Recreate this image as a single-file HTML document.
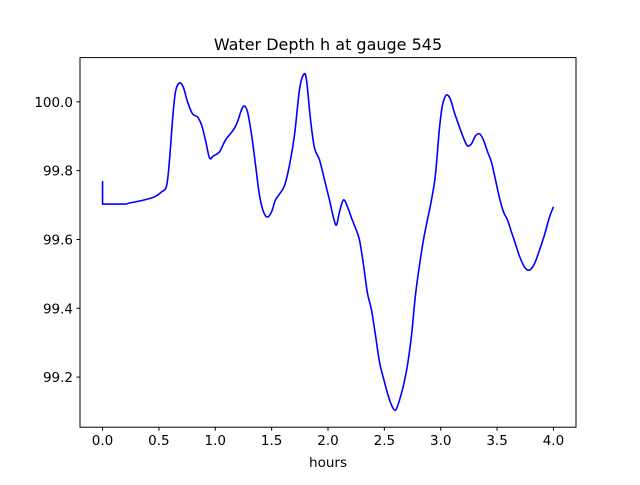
<!DOCTYPE html>
<html><head><meta charset="utf-8"><style>
body{margin:0;background:#fff}
svg text{font-family:"DejaVu Sans","Liberation Sans",sans-serif;}
</style></head><body>
<svg id="chart" width="640" height="480" xmlns="http://www.w3.org/2000/svg">
<rect width="640" height="480" fill="#fff"/>
<text x="328" y="50" text-anchor="middle" font-size="16">Water Depth h at gauge 545</text>
<g id="plot"></g>
<rect x="80" y="57.6" width="496" height="369.6" fill="none" stroke="#000" stroke-width="1"/>
<text x="328" y="467" text-anchor="middle" font-size="13.5">hours</text>
</svg>
<script>
const times=[0,0,0.195,0.239,0.373,0.461,0.523,0.568,0.594,0.621,0.647,0.683,0.718,0.754,0.798,0.843,0.878,0.913,0.949,0.984,1.038,1.091,1.162,1.197,1.233,1.259,1.286,1.322,1.357,1.392,1.428,1.463,1.499,1.534,1.570,1.614,1.659,1.703,1.747,1.783,1.809,1.845,1.880,1.925,1.969,2.013,2.049,2.075,2.102,2.137,2.173,2.208,2.244,2.279,2.315,2.350,2.386,2.421,2.457,2.492,2.528,2.563,2.599,2.634,2.670,2.705,2.741,2.776,2.812,2.847,2.882,2.918,2.953,2.989,3.016,3.051,3.087,3.122,3.166,3.202,3.237,3.273,3.308,3.344,3.379,3.415,3.450,3.486,3.521,3.557,3.592,3.627,3.663,3.698,3.743,3.787,3.831,3.876,3.920,3.965,4.0];
const depths=[99.770,99.703,99.703,99.706,99.715,99.724,99.738,99.756,99.831,99.948,100.029,100.055,100.041,100.0,99.965,99.956,99.933,99.889,99.837,99.843,99.855,99.889,99.919,99.942,99.977,99.988,99.971,99.904,99.817,99.729,99.680,99.665,99.680,99.715,99.732,99.756,99.817,99.904,100.035,100.079,100.064,99.948,99.866,99.831,99.773,99.715,99.663,99.642,99.680,99.715,99.695,99.663,99.633,99.599,99.526,99.444,99.395,99.322,99.244,99.197,99.153,99.119,99.104,99.133,99.177,99.235,99.322,99.439,99.526,99.599,99.657,99.715,99.788,99.924,99.991,100.020,100.006,99.968,99.927,99.895,99.872,99.878,99.901,99.907,99.889,99.855,99.825,99.773,99.721,99.680,99.657,99.622,99.587,99.552,99.520,99.511,99.529,99.569,99.613,99.665,99.695];
const xTicks=[0,0.5,1,1.5,2,2.5,3,3.5,4];
const xTickLabels=["0.0","0.5","1.0","1.5","2.0","2.5","3.0","3.5","4.0"];
const yTicks=[99.2,99.4,99.6,99.8,100.0];
const yTickLabels=["99.2","99.4","99.6","99.8","100.0"];

const L=80,R=576,T=57.6,B=427.2;
const xmin=-0.2,xmax=4.2,ymin=99.0545,ymax=100.1285;
const xs=v=>L+(v-xmin)/(xmax-xmin)*(R-L);
const ys=v=>B-(v-ymin)/(ymax-ymin)*(B-T);
const NS="http://www.w3.org/2000/svg";
const g=document.getElementById('plot');
function mk(tag,attrs){const e=document.createElementNS(NS,tag);for(const k in attrs)e.setAttribute(k,attrs[k]);g.appendChild(e);return e;}
xTicks.forEach((t,i)=>{
  const l=mk('line',{x1:xs(t),x2:xs(t),y1:B,y2:B+3.5,stroke:'#000'});
  
  
  const tx=mk('text',{x:xs(t),y:B+18,'text-anchor':'middle','font-size':'13.5'});
  tx.textContent=xTickLabels[i];
  
  
});
yTicks.forEach((t,i)=>{
  const l=mk('line',{x1:L-3.5,x2:L,y1:ys(t),y2:ys(t),stroke:'#000'});
  
  
  const tx=mk('text',{x:L-7,y:ys(t)+5,'text-anchor':'end','font-size':'13.5'});
  tx.textContent=yTickLabels[i];
  
  
});
const pts=times.map((t,i)=>[xs(t),ys(depths[i])]);
let d='M'+pts[0][0]+','+pts[0][1]+' L'+pts[1][0]+','+pts[1][1];
for(let i=1;i<pts.length-1;i++){
  const p0=pts[i-1<1?1:i-1],p1=pts[i],p2=pts[i+1],p3=pts[Math.min(i+2,pts.length-1)];
  const c1x=p1[0]+(p2[0]-p0[0])/6,c1y=p1[1]+(p2[1]-p0[1])/6;
  const c2x=p2[0]-(p3[0]-p1[0])/6,c2y=p2[1]-(p3[1]-p1[1])/6;
  d+=' C'+c1x+','+c1y+' '+c2x+','+c2y+' '+p2[0]+','+p2[1];
}
const line=mk('path',{d:d,fill:'none',stroke:'#0000ff','stroke-width':'1.6'});


</script>
</body></html>
